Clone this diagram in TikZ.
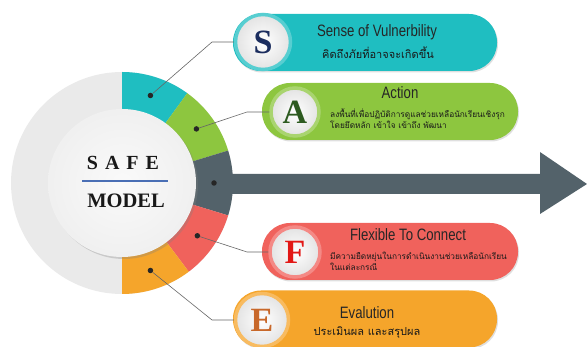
\documentclass[tikz,border=0pt]{standalone}
\usepackage{fontspec}
\setmainfont{Liberation Serif}
\newfontfamily\titlefont[FakeStretch=0.8]{Liberation Sans}
\newfontfamily\thaifont[Script=Thai]{Loma}
\usetikzlibrary{shadows}

\definecolor{safeteal}{HTML}{1FBEC1}
\definecolor{safegreen}{HTML}{8DC63F}
\definecolor{safeslate}{HTML}{53626A}
\definecolor{safered}{HTML}{F0625C}
\definecolor{safeorange}{HTML}{F5A52B}
\definecolor{ringgray}{HTML}{EAEAEA}
\definecolor{ruleblue}{HTML}{4A6FB5}
\definecolor{letnavy}{HTML}{1B2D5E}
\definecolor{letgreen}{HTML}{2D5A20}
\definecolor{letred}{HTML}{E21816}
\definecolor{letbrown}{HTML}{C8682A}

\begin{document}
\begin{tikzpicture}[x=1pt,y=1pt,
    pill/.style={rectangle, rounded corners=28pt, minimum height=57pt, inner sep=0pt,
                 drop shadow={opacity=0.25, shadow xshift=1pt, shadow yshift=-1.5pt}},
    letter/.style={circle, inner sep=0pt, line width=3.5pt, inner color=white, outer color=gray!22,
                   font=\bfseries\fontsize{34}{34}\selectfont},
    dot/.style={circle, fill=black!85, inner sep=0pt, minimum size=5.5pt},
    wire/.style={draw=black!60, line width=0.6pt},
    title/.style={font=\titlefont\fontsize{16.5}{16.5}\selectfont, text=black!85, inner sep=0pt},
    thai/.style={font=\thaifont\fontsize{8.3}{11}\selectfont, text=black!90, inner sep=0pt, align=left}]
  \useasboundingbox (0,0) rectangle (587,347);

  % wheel
  \coordinate (hub) at (122,164);
  \fill[ringgray] (hub) circle[radius=111];
  \fill[safeteal] (hub) -- ++(90:111) arc[start angle=90, end angle=54, radius=111] -- cycle;
  \fill[safegreen] (hub) -- ++(54:111) arc[start angle=54, end angle=17, radius=111] -- cycle;
  \fill[safeslate] (hub) -- ++(17:111) arc[start angle=17, end angle=-17, radius=111] -- cycle;
  \fill[safered] (hub) -- ++(-17:111) arc[start angle=-17, end angle=-53, radius=111] -- cycle;
  \fill[safeorange] (hub) -- ++(-53:111) arc[start angle=-53, end angle=-90, radius=111] -- cycle;

  % big arrow
  \fill[safeslate] (226,153) -- (540,153) -- (540,133) -- (587,163)
                   -- (540,195) -- (540,173) -- (226,173) -- cycle;

  \node[circle, minimum size=148pt, inner sep=0pt, inner color=gray!4, outer color=gray!12,
        drop shadow={opacity=0.3, shadow xshift=2pt, shadow yshift=-2pt}] (core) at (122,164) {};
  \node[font=\bfseries\fontsize{20}{20}\selectfont, text=black!90] (safe) at (123,184)
        {S\hspace{7pt}A\hspace{7pt}F\hspace{7pt}E};
  \draw[ruleblue, line width=1.6pt] (82,166) -- (168,166);
  \node[font=\bfseries\fontsize{20.5}{20.5}\selectfont, text=black!90] (model) at (126,146) {MODEL};

  % dots on the ring
  \node[dot] (dotS) at ([shift={(72:92)}]hub) {};
  \node[dot] (dotA) at ([shift={(36:92)}]hub) {};
  \node[dot] (dotM) at ([shift={(0:92)}]hub) {};
  \node[dot] (dotF) at ([shift={(-35:92)}]hub) {};
  \node[dot] (dotE) at ([shift={(-72:92)}]hub) {};

  % bars
  \node[pill, fill=safeteal, minimum width=264pt] (barS) at (365,304.5) {};
  \node[pill, fill=safegreen, minimum width=256pt] (barA) at (390,235.5) {};
  \node[pill, fill=safered, minimum width=256pt] (barF) at (390,95.5) {};
  \node[pill, fill=safeorange, minimum width=264pt] (barE) at (365,28) {};

  \node[letter, draw=safeteal!75!white, minimum size=55pt, text=letnavy] (letS) at (263,305) {S};
  \node[letter, draw=safegreen!75!white, minimum size=48pt, text=letgreen] (letA) at (295,235) {A};
  \node[letter, draw=safered!75!white, minimum size=50pt, text=letred] (letF) at (295,95) {F};
  \node[letter, draw=safeorange!75!white, minimum size=53pt, text=letbrown] (letE) at (262,27) {E};

  % connectors
  \coordinate (kinkS) at (212,305);
  \coordinate (kinkA) at (247,235);
  \coordinate (kinkF) at (247,95);
  \coordinate (kinkE) at (212,27);
  \draw[wire] (dotS) -- (kinkS) -- (letS);
  \draw[wire] (dotA) -- (kinkA) -- (letA);
  \draw[wire] (dotF) -- (kinkF) -- (letF);
  \draw[wire] (dotE) -- (kinkE) -- (letE);

  % texts
  \node[title] (ttlS) at (377,315) {Sense of Vulnerbility};
  \node[thai, font=\thaifont\fontsize{11}{11}\selectfont] (txtS) at (378,294) {คิดถึงภัยที่อาจจะเกิดขึ้น};
  \node[title] (ttlA) at (400,254) {Action};
  \node[thai, anchor=west] (txtA) at (330,228) {ลงพื้นที่เพื่อปฏิบัติการดูแลช่วยเหลือนักเรียนเชิงรุก\\โดยยึดหลัก เข้าใจ เข้าถึง พัฒนา};
  \node[title] (ttlF) at (408,112) {Flexible To Connect};
  \node[thai, anchor=west] (txtF) at (330,86) {มีความยืดหยุ่นในการดำเนินงานช่วยเหลือนักเรียน\\ในแต่ละกรณี};
  \node[title] (ttlE) at (367,34) {Evalution};
  \node[thai, font=\thaifont\fontsize{11}{11}\selectfont] (txtE) at (367,14) {ประเมินผล และสรุปผล};
\end{tikzpicture}
\end{document}
